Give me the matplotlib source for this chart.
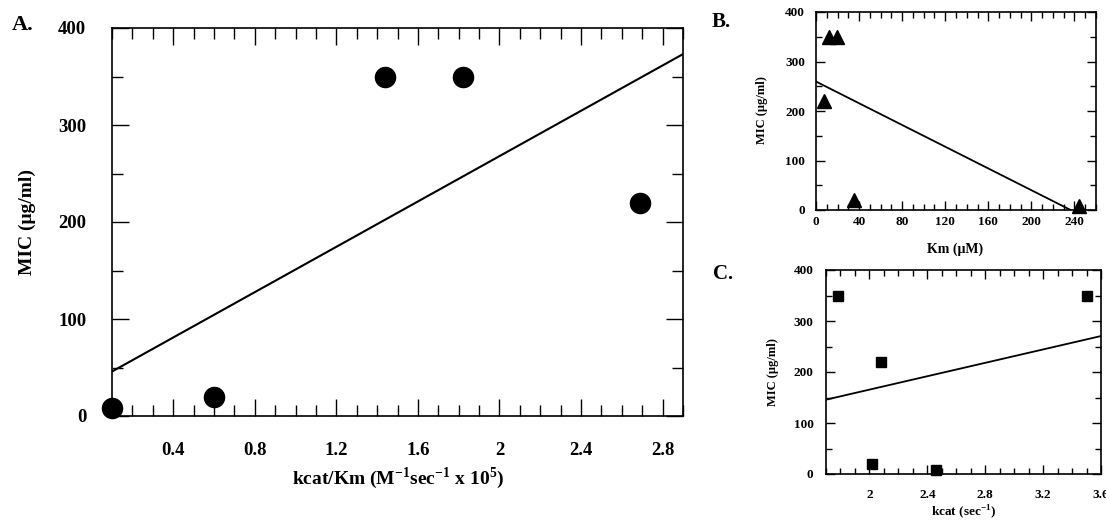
import numpy as np
import matplotlib
matplotlib.use('Agg')
import matplotlib.pyplot as plt
from matplotlib.ticker import MultipleLocator, FuncFormatter

plt.rcParams['font.family'] = ['Liberation Serif', 'DejaVu Serif']
plt.rcParams['font.weight'] = 'bold'
plt.rcParams['mathtext.fontset'] = 'custom'
plt.rcParams['mathtext.rm'] = 'Liberation Serif:bold'
plt.rcParams['mathtext.bf'] = 'Liberation Serif:bold'

# MIC values shared by the three panels
mic = [8, 20, 350, 350, 220]
# panel A: kcat/Km (M^-1 sec^-1 x 10^5)
kcat_km = [0.1, 0.6, 1.44, 1.82, 2.69]
# panel B: Km (uM)
km = [244, 35.6, 19.5, 11.8, 7.7]
# panel C: kcat (sec^-1)
kcat = [2.46, 2.02, 3.5, 1.78, 2.08]

W, H = 1106, 521
fig = plt.figure(figsize=(W / 100, H / 100), dpi=100)


def box(l, t, r, b):
    return [l / W, 1 - b / H, (r - l) / W, (b - t) / H]


fmt = FuncFormatter(lambda v, p: f'{v:g}')


def panel(rect, x, y, marker, ms, xlim, xmaj, xmin, tsize, tick_len, xpad, ypad, lw):
    ax = fig.add_axes(rect)
    slope, icpt = np.polyfit(x, y, 1)
    xs = np.array(xlim)
    ax.plot(xs, icpt + slope * xs, color='black', lw=lw)
    ax.plot(x, y, marker, color='black', ms=ms, ls='none', clip_on=False)
    ax.xaxis.set_major_locator(MultipleLocator(xmaj))
    ax.xaxis.set_minor_locator(MultipleLocator(xmin))
    ax.yaxis.set_major_locator(MultipleLocator(100))
    ax.yaxis.set_minor_locator(MultipleLocator(50))
    ax.xaxis.set_major_formatter(fmt)
    ax.set_xlim(xlim)
    ax.set_ylim(0, 400)
    ax.tick_params(which='both', direction='in', top=True, right=True,
                   labelsize=tsize, width=1)
    ax.tick_params(which='major', length=tick_len)
    ax.tick_params(which='minor', length=tick_len * 0.62)
    ax.tick_params(axis='x', pad=xpad)
    ax.tick_params(axis='y', pad=ypad)
    for s in ax.spines.values():
        s.set_linewidth(1.2)
    return ax


axA = panel(box(112, 28, 683, 416), kcat_km, mic, 'o', 14.5, (0.1, 2.9), 0.4, 0.1,
            13.5, 12.5, 19, 18.5, 1.5)
axA.set_xticks(np.arange(0.4, 2.85, 0.4))
axA.set_xlim(0.1, 2.9)

axB = panel(box(816, 12, 1096, 210), km, mic, '^', 9.5, (0, 260), 40, 10,
            9.5, 6.5, 4, 8, 1.3)

axC = panel(box(826, 270, 1101, 474), kcat, mic, 's', 7.5, (1.7, 3.6), 0.4, 0.1,
            9.5, 6.5, 11, 9, 1.3)


def ftext(x, y, s, size, **kw):
    fig.text(x / W, 1 - y / H, s, size=size, weight='bold',
             ha=kw.pop('ha', 'center'), va=kw.pop('va', 'center'), **kw)


ftext(12, 25, 'A.', 16, ha='left')
ftext(712, 22, 'B.', 15, ha='left')
ftext(713, 274, 'C.', 15, ha='left')

ftext(27, 222, 'MIC (μg/ml)', 14, rotation=90)
ftext(398, 478, r'kcat/Km (M$^{-1}$sec$^{-1}$ x 10$^{5}$)', 14)

ftext(762, 110, 'MIC (μg/ml)', 9, rotation=90)
ftext(955, 249, 'Km (μM)', 10)

ftext(773, 372, 'MIC (μg/ml)', 9, rotation=90)
ftext(964, 512, r'kcat (sec$^{-1}$)', 9.5)

fig.savefig('out.png', dpi=100)
